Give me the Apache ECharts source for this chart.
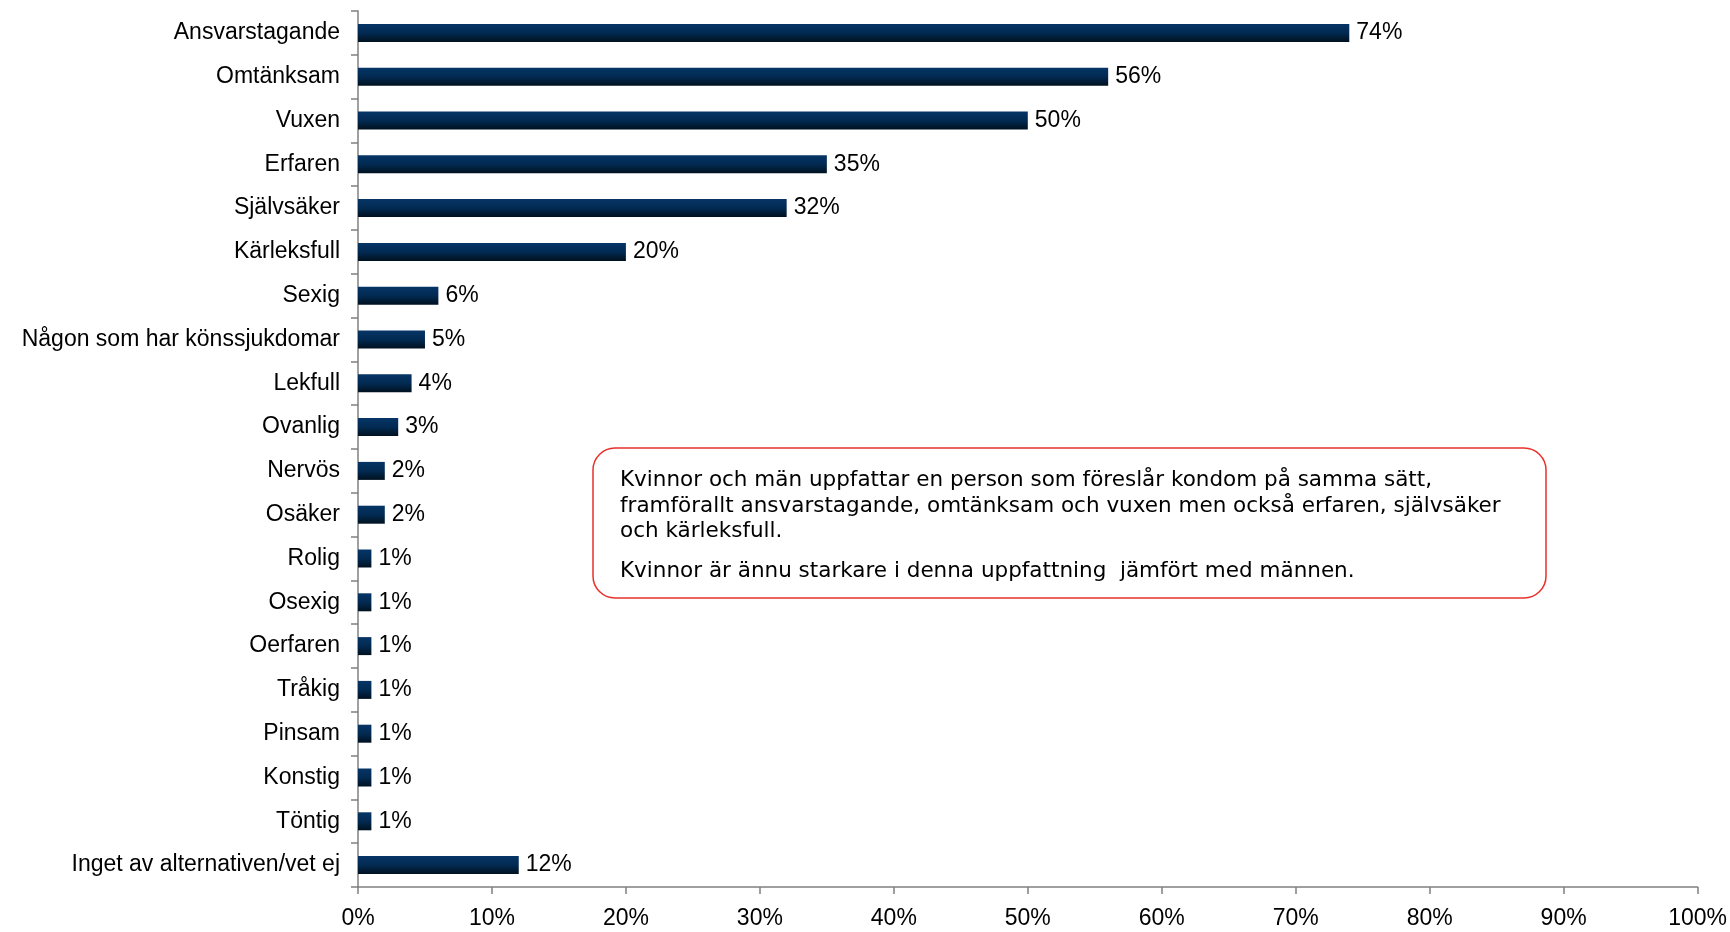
<!DOCTYPE html>
<html>
<head>
<meta charset="utf-8">
<script src="https://cdn.jsdelivr.net/npm/echarts@6/dist/echarts.min.js"></script>
<style>html,body{margin:0;padding:0;background:#fff}#c{width:1730px;height:932px}</style>
</head>
<body>
<div id="c"></div>
<script>
const categories = ["Ansvarstagande","Omtänksam","Vuxen","Erfaren","Självsäker","Kärleksfull","Sexig","Någon som har könssjukdomar","Lekfull","Ovanlig","Nervös","Osäker","Rolig","Osexig","Oerfaren","Tråkig","Pinsam","Konstig","Töntig","Inget av alternativen/vet ej"];
const values = [74,56,50,35,32,20,6,5,4,3,2,2,1,1,1,1,1,1,1,12];
const xTicks = [0,10,20,30,40,50,60,70,80,90,100];
const noteLines = [
  "Kvinnor och män uppfattar en person som föreslår kondom på samma sätt,",
  "framförallt ansvarstagande, omtänksam och vuxen men också erfaren, självsäker",
  "och kärleksfull.",
  "Kvinnor är ännu starkare i denna uppfattning  jämfört med männen."
];

const chart = echarts.init(document.getElementById('c'), null, {renderer:'canvas'});
const font = 'Liberation Sans, Arial, sans-serif';
chart.setOption({
  animation:false,
  grid:{left:358, right:32, top:11, bottom:45, containLabel:false},
  xAxis:{
    type:'value', min:xTicks[0], max:xTicks[xTicks.length-1], interval:10,
    axisLine:{show:true, lineStyle:{color:'#808080', width:1.5}},
    axisTick:{show:true, length:7, lineStyle:{color:'#808080', width:1.5}},
    splitLine:{show:false},
    axisLabel:{formatter:'{value}%', color:'#000', fontFamily:font, fontSize:23, margin:20}
  },
  yAxis:{
    type:'category', inverse:true, data:categories,
    axisLine:{show:true, lineStyle:{color:'#808080', width:1.5}},
    axisTick:{show:true, length:7, alignWithLabel:false, lineStyle:{color:'#808080', width:1.5}},
    axisLabel:{color:'#000', fontFamily:font, fontSize:23, margin:18, interval:0}
  },
  series:[{
    type:'bar', data:values, barWidth:18,
    itemStyle:{color:new echarts.graphic.LinearGradient(0,0,0,1,[
      {offset:0,color:'#063566'},{offset:0.5,color:'#022a52'},{offset:1,color:'#00111f'}])},
    label:{show:true, position:'right', distance:7, formatter:'{c}%', color:'#000', fontFamily:font, fontSize:23}
  }],
  graphic:[
    {type:'rect', shape:{x:593, y:448, width:953, height:150, r:22},
     style:{fill:'#fff', stroke:'#e8302a', lineWidth:1.5}},
    {type:'text', left:620, top:468, style:{text:noteLines.slice(0,3).join('\n'), font:'21.5px "DejaVu Sans"', fill:'#000', lineHeight:25.5}},
    {type:'text', left:620, top:559, style:{text:noteLines[3], font:'21.5px "DejaVu Sans"', fill:'#000', lineHeight:25.5}}
  ]
});
</script>
</body>
</html>
